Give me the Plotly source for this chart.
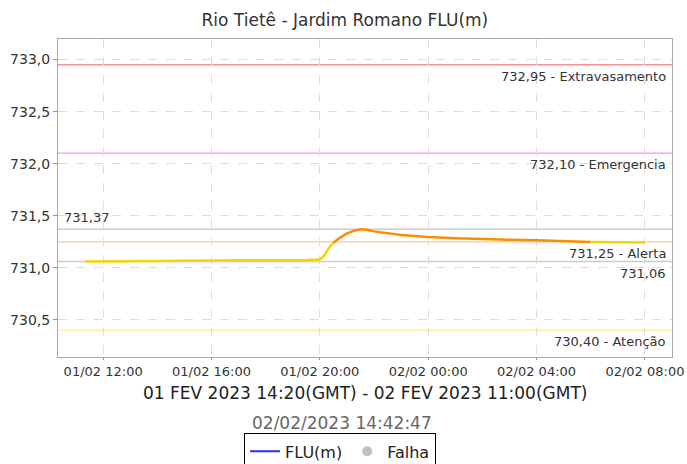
import plotly.graph_objects as go

# FLU(m) readings, local time
times = [
    "2023-02-01 11:20", "2023-02-01 12:00", "2023-02-01 14:00", "2023-02-01 16:00",
    "2023-02-01 18:00", "2023-02-01 19:30", "2023-02-01 20:00", "2023-02-01 20:10",
    "2023-02-01 20:20", "2023-02-01 20:30", "2023-02-01 20:45", "2023-02-01 21:00",
    "2023-02-01 21:15", "2023-02-01 21:30", "2023-02-01 21:45", "2023-02-01 22:00",
    "2023-02-01 22:30", "2023-02-01 23:00", "2023-02-01 23:30", "2023-02-02 00:00",
    "2023-02-02 01:00", "2023-02-02 02:00", "2023-02-02 03:00", "2023-02-02 04:00",
    "2023-02-02 05:00", "2023-02-02 05:50", "2023-02-02 06:00", "2023-02-02 07:00",
    "2023-02-02 08:00",
]
levels = [
    731.060, 731.060, 731.065, 731.070,
    731.070, 731.075, 731.080, 731.120,
    731.190, 731.240, 731.290, 731.330,
    731.355, 731.370, 731.365, 731.350,
    731.330, 731.315, 731.305, 731.295,
    731.285, 731.275, 731.270, 731.265,
    731.258, 731.252, 731.248, 731.245,
    731.244,
]

# reference lines: value, label, colour
ref_values = [732.95, 732.10, 731.25, 730.40]
ref_labels = ["732,95 - Extravasamento", "732,10 - Emergencia", "731,25 - Alerta", "730,40 - Atenção"]
ref_colors = ["#ff9090", "#ff9cff", "#ffd0a8", "#fff0a0"]
max_value, max_label = 731.37, "731,37"
min_value, min_label = 731.06, "731,06"

alert = 731.25
x_range = ["2023-02-01 10:20", "2023-02-02 09:00"]

fig = go.Figure()

# split the series into runs above / below the alert level
runs = []
for i in range(len(times) - 1):
    above = (levels[i] + levels[i + 1]) / 2 >= alert
    if runs and runs[-1][0] == above:
        runs[-1][1].append(i + 1)
    else:
        runs.append((above, [i, i + 1]))

for above, idx in runs:
    fig.add_trace(go.Scatter(
        x=[times[i] for i in idx],
        y=[levels[i] for i in idx],
        mode="lines",
        line=dict(color="#ff8c00" if above else "#f7d400", width=2.5),
        showlegend=False,
        hoverinfo="skip",
    ))

# legend entries
fig.add_trace(go.Scatter(x=[None], y=[None], mode="lines", name="FLU(m)",
                         line=dict(color="#2b2bff", width=2)))
fig.add_trace(go.Scatter(x=[None], y=[None], mode="markers", name="Falha",
                         marker=dict(color="#c0c0c0", size=10)))

label_font = dict(family="DejaVu Sans", size=13, color="#333333")

for val, lab, col in zip(ref_values, ref_labels, ref_colors):
    fig.add_hline(y=val, line=dict(color=col, width=1.5), layer="below")
    fig.add_annotation(x=0.993, xref="paper", y=val, yref="y", text=lab, showarrow=False,
                       xanchor="right", yanchor="top", yshift=-2, font=label_font)

fig.add_hline(y=max_value, line=dict(color="#cccccc", width=1.5), layer="below")
fig.add_annotation(x=0.006, xref="paper", y=max_value, yref="y", text=max_label, showarrow=False,
                   xanchor="left", yanchor="bottom", yshift=2, font=label_font)
fig.add_hline(y=min_value, line=dict(color="#cccccc", width=1.5), layer="below")
fig.add_annotation(x=0.993, xref="paper", y=min_value, yref="y", text=min_label, showarrow=False,
                   xanchor="right", yanchor="top", yshift=-2, font=label_font)

# captions under the axis
fig.add_annotation(x=0.5, xref="paper", y=-0.113, yref="paper", yanchor="middle",
                   text="01 FEV 2023 14:20(GMT) - 02 FEV 2023 11:00(GMT)", showarrow=False,
                   font=dict(family="DejaVu Sans", size=17, color="#222222"))
fig.add_annotation(x=0.462, xref="paper", y=-0.207, yref="paper", yanchor="middle",
                   text="02/02/2023 14:42:47", showarrow=False,
                   font=dict(family="DejaVu Sans", size=17, color="#666666"))

fig.update_layout(
    width=687,
    height=464,
    separators=",.",
    paper_bgcolor="white",
    plot_bgcolor="white",
    margin=dict(l=58, r=15, t=39, b=107, autoexpand=False),
    font=dict(family="DejaVu Sans", color="#333333"),
    title=dict(text="Rio Tietê - Jardim Romano FLU(m)", x=0.502, xanchor="center",
               y=0.957, yanchor="middle", font=dict(size=17, color="#333333")),
    legend=dict(orientation="h", xref="container", yref="container", x=0.495, xanchor="center",
                y=0.066, yanchor="top", bordercolor="#000000", borderwidth=1,
                font=dict(size=16, color="#222222"), itemwidth=30,
                tracegroupgap=0),
    xaxis=dict(
        type="date",
        range=x_range,
        tick0="2023-02-01 00:00",
        dtick=4 * 3600 * 1000,
        tickformat="%d/%m %H:%M",
        tickfont=dict(size=13, color="#333333"),
        ticks="outside", ticklen=2, tickcolor="#999999",
        showgrid=True, gridcolor="#dddddd", griddash="dash", gridwidth=1,
        showline=True, linecolor="#aaaaaa", mirror=True,
        zeroline=False,
    ),
    yaxis=dict(
        range=[730.144, 733.197],
        dtick=0.5,
        tickformat=".1f",
        tickfont=dict(size=14, color="#333333"),
        ticks="outside", ticklen=4, tickcolor="#999999",
        showgrid=True, gridcolor="#dddddd", griddash="dash", gridwidth=1,
        showline=True, linecolor="#aaaaaa", mirror=True,
        zeroline=False,
    ),
)

# the page's default body margin would push the figure off the 687x464 window
fig.write_html("out.html", config={"displayModeBar": False},
               post_script="document.body.style.margin = '0';")
